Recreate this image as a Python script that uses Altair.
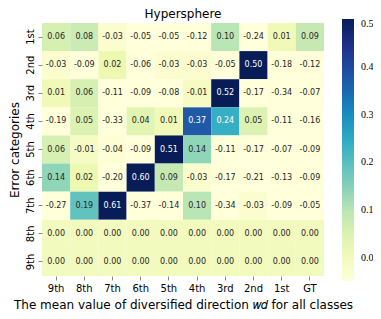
import altair as alt
import pandas as pd

rows = ["1st", "2nd", "3rd", "4th", "5th", "6th", "7th", "8th", "9th"]
cols = ["9th", "8th", "7th", "6th", "5th", "4th", "3rd", "2nd", "1st", "GT"]
values = [
    [0.06, 0.08, -0.03, -0.05, -0.05, -0.12, 0.10, -0.24, 0.01, 0.09],
    [-0.03, -0.09, 0.02, -0.06, -0.03, -0.03, -0.05, 0.50, -0.18, -0.12],
    [0.01, 0.06, -0.11, -0.09, -0.08, -0.01, 0.52, -0.17, -0.34, -0.07],
    [-0.19, 0.05, -0.33, 0.04, 0.01, 0.37, 0.24, 0.05, -0.11, -0.16],
    [0.06, -0.01, -0.04, -0.09, 0.51, 0.14, -0.11, -0.17, -0.07, -0.09],
    [0.14, 0.02, -0.20, 0.60, 0.09, -0.03, -0.17, -0.21, -0.13, -0.09],
    [-0.27, 0.19, 0.61, -0.37, -0.14, 0.10, -0.34, -0.03, -0.09, -0.05],
    [0.00] * 10,
    [0.00] * 10,
]
palette = ["#ffffd9", "#edf8b1", "#c7e9b4", "#7fcdbb", "#41b6c4",
           "#1d91c0", "#225ea8", "#253494", "#081d58"]
vmin, vmax = -0.048, 0.5

recs = []
for r, row in zip(rows, values):
    for c, v in zip(cols, row):
        recs.append({"row": r, "col": c, "v": v, "label": f"{v:.2f}"})
df = pd.DataFrame(recs)

dom = [vmin + (vmax - vmin) * i / (len(palette) - 1) for i in range(len(palette))]

base = alt.Chart(df).encode(
    x=alt.X("col:N", sort=cols, title="The mean value of diversified direction 𝑤𝑑 for all classes",
            axis=alt.Axis(labelAngle=0, labelFontSize=10, titleFontSize=12, titleFontWeight="normal",
                          tickSize=4, domain=False, labelPadding=3, titlePadding=6,
                          labelFont="DejaVu Sans", titleFont="DejaVu Sans")),
    y=alt.Y("row:N", sort=rows, title="Error categories",
            axis=alt.Axis(labelAngle=-90, labelFontSize=10, titleFontSize=12, titleFontWeight="normal",
                          tickSize=4, domain=False, labelPadding=3, titlePadding=4,
                          labelAlign="center", labelBaseline="bottom",
                          labelFont="DejaVu Sans", titleFont="DejaVu Sans")),
)

rect = base.mark_rect().encode(
    color=alt.Color("v:Q", scale=alt.Scale(domain=dom, range=palette, clamp=True),
                    legend=alt.Legend(title=None, orient="none", legendX=300, legendY=-4,
                                      gradientLength=262, gradientThickness=12,
                                      values=[0.0, 0.1, 0.2, 0.3, 0.4, 0.5],
                                      format=".1f", labelFont="Liberation Serif", labelFontSize=10,
                                      labelOffset=7,
                                      gradientStrokeWidth=0, tickCount=6))
)
text = base.mark_text(fontSize=8, font="DejaVu Sans").encode(
    text="label:N",
    color=alt.condition("datum.v > 0.2", alt.value("white"), alt.value("#262626")),
)

chart = (rect + text).properties(
    width=282, height=253,
    title=alt.Title("Hypersphere", fontSize=12, fontWeight="normal", font="DejaVu Sans",
                    offset=0, dy=2),
    padding={"left": 34, "top": 15, "right": 49, "bottom": 35},
    autosize="none",
).configure_view(stroke=None).configure_scale(bandPaddingInner=0, bandPaddingOuter=0)

chart.save("out.html", embed_options={"renderer": "svg", "actions": False})
